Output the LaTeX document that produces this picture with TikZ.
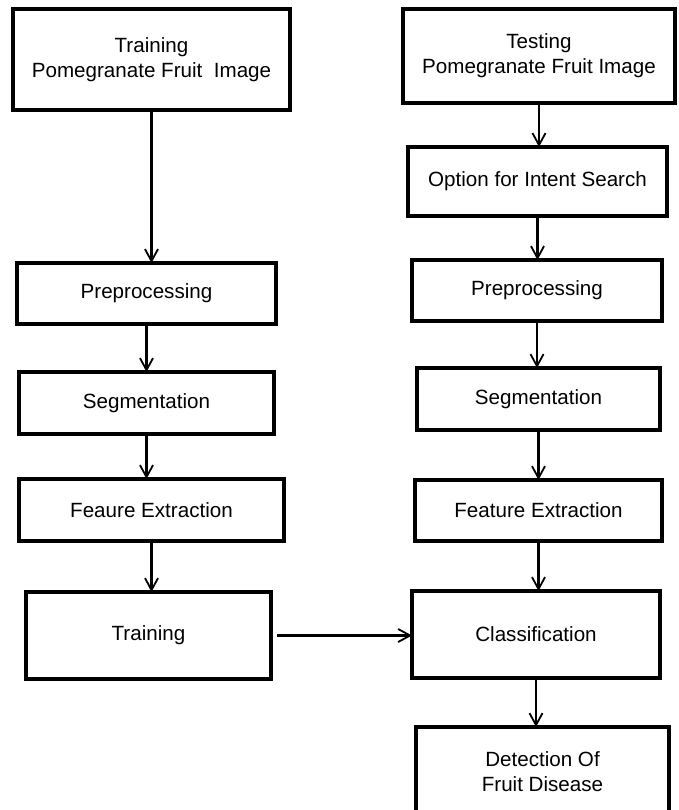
\documentclass[tikz,border=0pt]{standalone}
\usepackage{fontspec}
\setmainfont{Liberation Sans}
\usepackage{tikz}
\usetikzlibrary{calc}
\usetikzlibrary{arrows.meta}
\usetikzlibrary{positioning}

\tikzset{
  stage/.style={draw=black, line width=3.2pt, align=center, inner sep=0pt, outer sep=0pt,
                font=\fontsize{20.6}{25}\selectfont},
  flow/.style={line width=2.6pt, -{Straight Barb[length=12pt, width=13pt, line width=1.8pt]}}
}

\begin{document}
\begin{tikzpicture}[x=1pt, y=-1pt]
            % Frame to fix page size
            \useasboundingbox (0,0) rectangle (678,810);
            % Training side
            \node[stage, minimum width=277pt, minimum height=101pt] (trainimg) at (151.5, 59.5) {Training\\Pomegranate Fruit~~Image};
            \node[stage, minimum width=259pt, minimum height=61pt]  (prel)     at (146.5,293.5) {Preprocessing};
            \node[stage, minimum width=255pt, minimum height=62pt]  (segl)     at (146.5,403.0) {Segmentation};
            \node[stage, minimum width=265pt, minimum height=62pt]  (featl)    at (151.5,510.0) {Feaure Extraction};
            \node[stage, minimum width=245pt, minimum height=87pt]  (training) at (148.5,635.5) {Training};
            % Testing side
            \node[stage, minimum width=272pt, minimum height=94pt]  (testimg)  at (539.0, 56.0) {Testing\\Pomegranate Fruit Image};
            \node[stage, minimum width=259pt, minimum height=69pt]  (option)   at (537.5,181.5) {Option for Intent Search};
            \node[stage, minimum width=250pt, minimum height=61pt]  (prer)     at (537.0,290.5) {Preprocessing};
            \node[stage, minimum width=243pt, minimum height=62pt]  (segr)     at (538.5,399.0) {Segmentation};
            \node[stage, minimum width=247pt, minimum height=61pt]  (featr)    at (538.5,510.5) {Feature Extraction};
            \node[stage, minimum width=248pt, minimum height=87pt]  (classif)  at (536.0,634.5) {Classification};
            \node[stage, minimum width=253pt, minimum height=90pt]  (detect)   at (542.5,772.0) {Detection Of\\Fruit Disease};
            % Left arrows
            \draw[flow] (trainimg.south) -- (trainimg.south |- prel.north);
            \draw[flow] (prel.south)     -- (prel.south |- segl.north);
            \draw[flow] (segl.south)     -- (segl.south |- featl.north);
            \draw[flow] (featl.south)    -- (featl.south |- training.north);
            % Right arrows
            \draw[flow] (testimg.south)  -- (testimg.south |- option.north);
            \draw[flow] (option.south)   -- (option.south |- prer.north);
            \draw[flow] (prer.south)     -- (prer.south |- segr.north);
            \draw[flow] (segr.south)     -- (segr.south |- featr.north);
            \draw[flow] (featr.south)    -- (featr.south |- classif.north);
            \draw[flow] (classif.south)  -- (classif.south |- detect.north);
            % Training to classification
            \draw[flow, shorten <=6pt] (training.east) -- (training.east -| classif.west);
\end{tikzpicture}
\end{document}
